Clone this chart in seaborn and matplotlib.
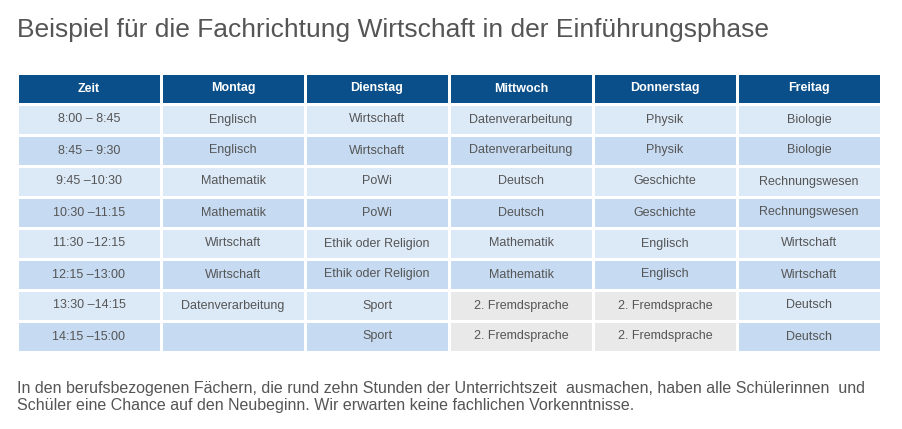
import numpy as np
import matplotlib.pyplot as plt
import seaborn as sns
from matplotlib.colors import ListedColormap

# Timetable data
days = ['Zeit', 'Montag', 'Dienstag', 'Mittwoch', 'Donnerstag', 'Freitag']
times = ['8:00 – 8:45', '8:45 – 9:30', '9:45 –10:30', '10:30 –11:15',
         '11:30 –12:15', '12:15 –13:00', '13:30 –14:15', '14:15 –15:00']
montag = ['Englisch', 'Englisch', 'Mathematik', 'Mathematik', 'Wirtschaft', 'Wirtschaft', 'Datenverarbeitung', '']
dienstag = ['Wirtschaft', 'Wirtschaft', 'PoWi', 'PoWi', 'Ethik oder Religion', 'Ethik oder Religion', 'Sport', 'Sport']
mittwoch = ['Datenverarbeitung', 'Datenverarbeitung', 'Deutsch', 'Deutsch', 'Mathematik', 'Mathematik',
            '2. Fremdsprache', '2. Fremdsprache']
donnerstag = ['Physik', 'Physik', 'Geschichte', 'Geschichte', 'Englisch', 'Englisch',
              '2. Fremdsprache', '2. Fremdsprache']
freitag = ['Biologie', 'Biologie', 'Rechnungswesen', 'Rechnungswesen', 'Wirtschaft', 'Wirtschaft',
           'Deutsch', 'Deutsch']

labels = np.array([days] + [list(r) for r in zip(times, montag, dienstag, mittwoch, donnerstag, freitag)])

# colour codes: 0 light blue, 1 mid blue, 2 grey, 3 header
codes = np.zeros(labels.shape)
codes[0, :] = 3
for i in range(1, labels.shape[0]):
    codes[i, :] = 0 if i % 2 == 1 else 1
    if labels[i, 3] == '2. Fremdsprache':
        codes[i, 3:5] = 2
cmap = ListedColormap(['#dce9f7', '#c6daf1', '#e9e9e9', '#0b4f8a'])

fig = plt.figure(figsize=(9.02, 4.29), dpi=100)
W, H = 902, 429
ax = fig.add_axes([17 / W, 1 - 352 / H, 864 / W, 279 / H])
sns.heatmap(codes, cmap=cmap, vmin=-0.5, vmax=3.5, annot=labels, fmt='', cbar=False,
            linewidths=0.9, linecolor='white', ax=ax,
            annot_kws={'fontsize': 9, 'color': '#555555', 'family': 'Liberation Sans'})
ax.set_xticks([])
ax.set_yticks([])
ncol = labels.shape[1]
for k, t in enumerate(ax.texts):
    if k < ncol:
        t.set_color('white')
        t.set_fontweight('bold')

fig.text(17 / W, 1 - 30 / H, 'Beispiel für die Fachrichtung Wirtschaft in der Einführungsphase',
         fontsize=19, color='#555555', family='Liberation Sans', va='center')
fig.text(17 / W, 1 - 397 / H,
         'In den berufsbezogenen Fächern, die rund zehn Stunden der Unterrichtszeit  ausmachen, haben alle Schülerinnen  und\n'
         'Schüler eine Chance auf den Neubeginn. Wir erwarten keine fachlichen Vorkenntnisse.',
         fontsize=11.5, color='#555555', family='Liberation Sans', va='center', linespacing=1.1)

fig.savefig('out.png', dpi=100)
